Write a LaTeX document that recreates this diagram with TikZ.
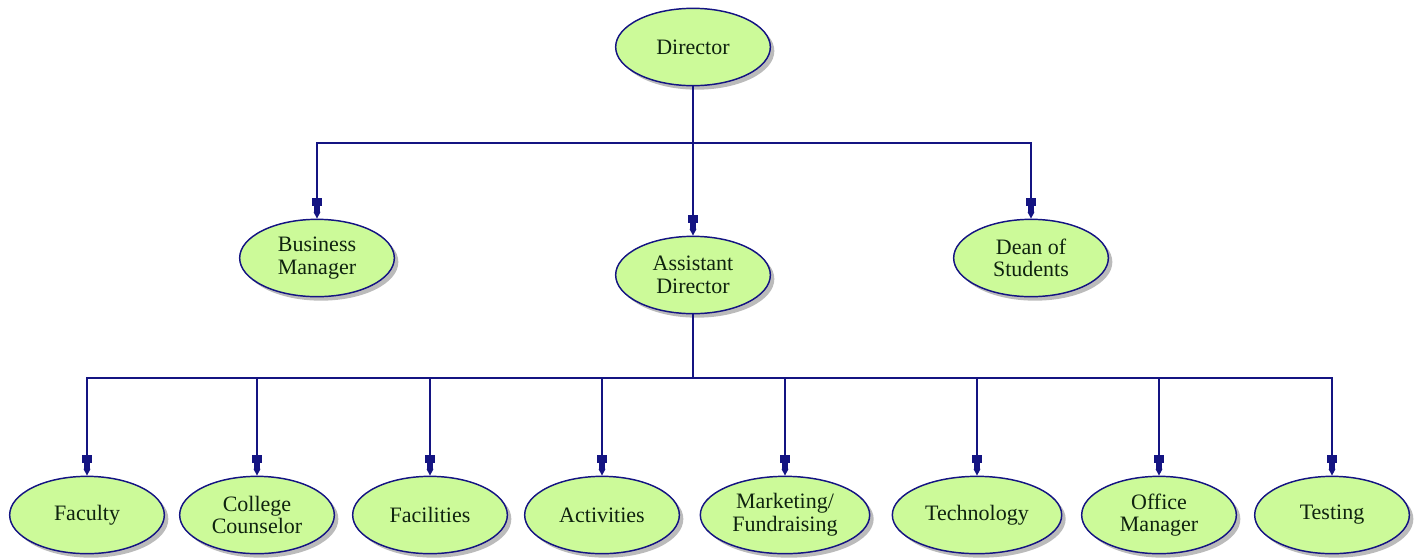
\documentclass[tikz,border=0pt]{standalone}
\usepackage{fontspec}
\setmainfont{Liberation Serif}
\usepackage{tikz}
\usetikzlibrary{shapes.geometric, arrows.meta, shadows}

\definecolor{orgline}{RGB}{20,20,130}
\definecolor{orgfill}{RGB}{204,250,153}
\definecolor{orgshadow}{RGB}{170,170,170}

\begin{document}
\begin{tikzpicture}[x=0.75pt,y=0.75pt,yscale=-1,xscale=1,
  post/.style={ellipse, draw=orgline, line width=1.1pt, fill=orgfill,
    minimum width=116pt, minimum height=58pt, inner sep=0pt, align=center,
    font=\fontsize{16.5}{17}\selectfont, text={rgb,255:red,15;green,35;blue,15},
    drop shadow={shadow xshift=3pt, shadow yshift=-3pt, fill=orgshadow, opacity=0.8}},
  widepost/.style={post, minimum width=127pt},
  link/.style={draw=orgline, line width=0.9pt},
  feed/.style={link, -{Rectangle[length=6pt,width=7.5pt,sep=0pt]Rectangle[length=4.5pt,width=5pt,sep=0pt]Triangle[length=5pt,width=5pt]}}]
\useasboundingbox (0,0) rectangle (1419,557);

% Top level
\node [post] (dir) at (693,47) {Director};

% Second level
\node [post] (bm) at (317,258) {Business\\Manager};
\node [post] (asst) at (693,275) {Assistant\\Director};
\node [post] (dean) at (1031,258) {Dean of\\Students};

% Third level
\node [post] (fac) at (87,515) {Faculty};
\node [post] (cc) at (257,515) {College\\Counselor};
\node [post] (facil) at (430,515) {Facilities};
\node [post] (act) at (602,515) {Activities};
\node [widepost] (mkt) at (785,515) {Marketing/\\Fundraising};
\node [widepost] (tech) at (977,515) {Technology};
\node [post] (om) at (1159,515) {Office\\Manager};
\node [post] (test) at (1332,515) {Testing};

% Junctions
\coordinate (jtop) at (693,143);
\coordinate (jbot) at (693,378);

% Connectors from director
\draw [link] (dir.south) -- (jtop);
\draw [feed] (jtop) -- (asst.north);
\draw [feed] (jtop) -| (bm.north);
\draw [feed] (jtop) -| (dean.north);

% Connectors from assistant director
\draw [link] (asst.south) -- (jbot);
\foreach \n in {fac,cc,facil,act,mkt,tech,om,test}
  \draw [feed] (jbot) -| (\n.north);

\end{tikzpicture}
\end{document}
